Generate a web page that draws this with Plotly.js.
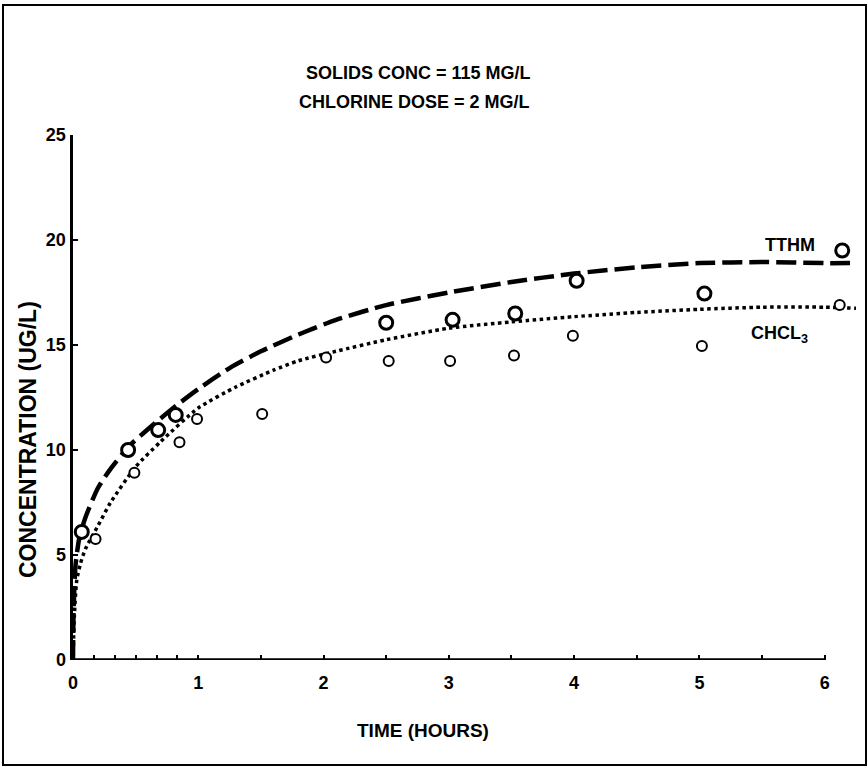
<!DOCTYPE html>
<html>
<head>
<meta charset="utf-8">
<script src="https://cdn.plot.ly/plotly-3.0.1.min.js"></script>
<style>html,body{margin:0;padding:0;background:#fff;}#chart{width:868px;height:768px;}</style>
</head>
<body>
<div id="chart"></div>
<script>
// Observed data points
const tthmX = [0.07, 0.44, 0.68, 0.82, 2.50, 3.03, 3.53, 4.02, 5.04, 6.14];
const tthmY = [6.1, 10.0, 10.95, 11.67, 16.06, 16.2, 16.5, 18.06, 17.45, 19.5];
const chclX = [0.18, 0.49, 0.85, 0.99, 1.51, 2.02, 2.52, 3.01, 3.52, 3.99, 5.02, 6.12];
const chclY = [5.76, 8.92, 10.37, 11.48, 11.71, 14.4, 14.24, 14.24, 14.5, 15.44, 14.95, 16.9];
// Fitted curves
const tthmFitX = [0, 0.005, 0.02, 0.05, 0.1, 0.2, 0.3, 0.45, 0.6, 0.8, 1.0, 1.25, 1.5, 1.8, 2.1, 2.5, 3.0, 3.5, 4.0, 4.5, 5.0, 5.5, 6.0, 6.28];
const tthmFitY = [0, 2.5, 4.5, 5.8, 6.8, 8.2, 9.1, 10.2, 11.0, 12.0, 12.9, 13.9, 14.7, 15.5, 16.2, 16.9, 17.5, 18.0, 18.4, 18.7, 18.9, 18.95, 18.9, 18.9];
const chclFitX = [0, 0.01, 0.03, 0.06, 0.1, 0.2, 0.3, 0.5, 0.7, 1.0, 1.3, 1.6, 1.8, 2.1, 2.5, 3.0, 3.5, 4.0, 4.5, 5.0, 5.5, 6.0, 6.25];
const chclFitY = [0, 2.0, 3.8, 4.6, 5.3, 6.4, 7.5, 9.2, 10.4, 12.0, 13.0, 13.8, 14.25, 14.7, 15.25, 15.8, 16.1, 16.35, 16.55, 16.7, 16.8, 16.8, 16.75];
// Axis ticks
const xTickVals = [0, 1/6, 2/6, 3/6, 4/6, 5/6, 1, 1.5, 2, 2.5, 3, 3.5, 4, 4.5, 5, 5.5, 6];
const xTickText = ['0', '', '', '', '', '', '1', '', '2', '', '3', '', '4', '', '5', '', '6'];
const yTickVals = [0, 5, 10, 15, 20, 25];
const yTickText = ['0', '5', '10', '15', '20', '25'];
const titleLines = ['SOLIDS CONC = 115 MG/L', 'CHLORINE DOSE = 2 MG/L'];
const xTitle = 'TIME (HOURS)';
const yTitle = 'CONCENTRATION (UG/L)';

const FONT = '"Liberation Sans Narrow", "Liberation Sans", Arial, sans-serif';

const traces = [
  {x: tthmFitX, y: tthmFitY, mode: 'lines', line: {color: '#000', width: 4.5, dash: '20px,7px', shape: 'spline', smoothing: 0.6}, hoverinfo: 'skip'},
  {x: chclFitX, y: chclFitY, mode: 'lines', line: {color: '#000', width: 3.5, dash: 'dot', shape: 'spline', smoothing: 0.6}, hoverinfo: 'skip'},
  {x: tthmX, y: tthmY, mode: 'markers', cliponaxis: false,
   marker: {symbol: 'circle', size: 13, color: '#fff', line: {width: 3, color: '#000'}}},
  {x: chclX, y: chclY, mode: 'markers', cliponaxis: false,
   marker: {symbol: 'circle', size: 10, color: '#fff', line: {width: 2, color: '#000'}}}
];

function paperX(px) { return (px - 73) / 783; }
function paperY(py) { return (660 - py) / 525; }

const layout = {
  width: 868, height: 768,
  margin: {l: 73, r: 12, t: 135, b: 108},
  paper_bgcolor: '#fff', plot_bgcolor: '#fff',
  showlegend: false,
  font: {family: FONT, color: '#000', size: 16},
  xaxis: {
    range: [0, 6.25], showgrid: false, zeroline: false, showline: false,
    tickmode: 'array', tickvals: xTickVals, ticktext: xTickText,
    ticks: 'inside', ticklen: 5, tickwidth: 2, tickcolor: '#000',
    ticklabelstandoff: 10,
    tickfont: {family: FONT, size: 18, color: '#000', weight: 'bold'}
  },
  yaxis: {
    range: [0, 25], showgrid: false, zeroline: false,
    showline: true, linewidth: 3.5, linecolor: '#000',
    tickmode: 'array', tickvals: yTickVals, ticktext: yTickText,
    ticks: 'inside', ticklen: 5, tickwidth: 2, tickcolor: '#000',
    tickfont: {family: FONT, size: 18, color: '#000', weight: 'bold'}
  },
  shapes: [
    {type: 'line', xref: 'x', yref: 'y', x0: 0, x1: 6, y0: 0, y1: 0, line: {color: '#000', width: 3.5}},
    {type: 'rect', xref: 'paper', yref: 'paper', x0: paperX(3), x1: paperX(866), y0: paperY(765), y1: paperY(5), line: {color: '#000', width: 2}}
  ],
  annotations: [
    {xref: 'paper', yref: 'paper', x: paperX(418), y: paperY(73), xanchor: 'center', yanchor: 'middle', text: '<b>' + titleLines[0] + '</b>', showarrow: false, font: {size: 18}},
    {xref: 'paper', yref: 'paper', x: paperX(414), y: paperY(102), xanchor: 'center', yanchor: 'middle', text: '<b>' + titleLines[1] + '</b>', showarrow: false, font: {size: 18}},
    {xref: 'paper', yref: 'paper', x: paperX(423), y: paperY(730), xanchor: 'center', yanchor: 'middle', text: '<b>' + xTitle + '</b>', showarrow: false, font: {size: 19}},
    {xref: 'paper', yref: 'paper', x: paperX(28), y: paperY(440), xanchor: 'center', yanchor: 'middle', text: '<b>' + yTitle + '</b>', showarrow: false, textangle: -90, font: {size: 23}},
    {xref: 'x', yref: 'y', x: 5.72, y: 19.76, text: '<b>TTHM</b>', showarrow: false, font: {size: 18}},
    {xref: 'x', yref: 'y', x: 5.64, y: 15.48, text: '<b>CHCL<sub>3</sub></b>', showarrow: false, font: {size: 18}}
  ]
};

Plotly.newPlot('chart', traces, layout, {staticPlot: true, displayModeBar: false});
</script>
</body>
</html>
